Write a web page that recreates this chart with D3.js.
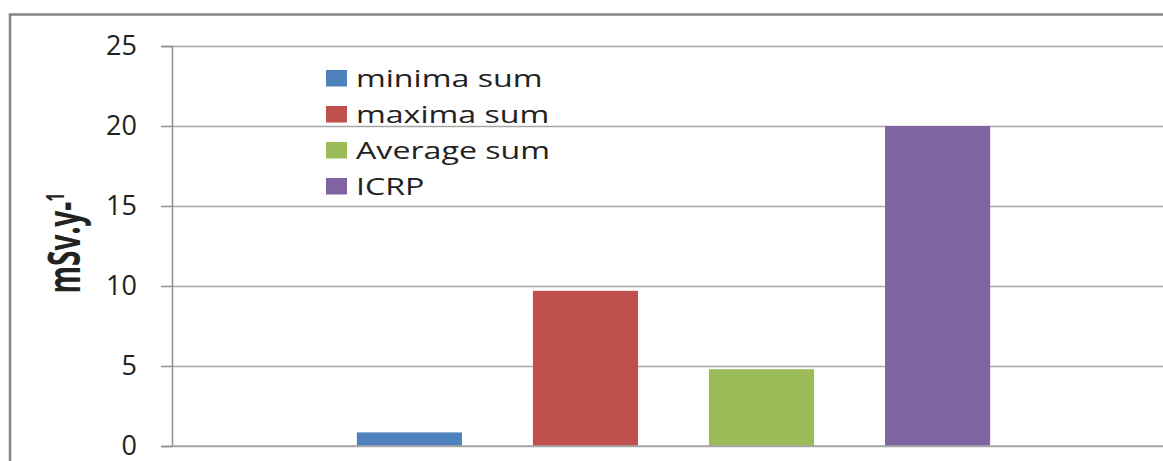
<!DOCTYPE html>
<html>
<head>
<meta charset="utf-8">
<script src="https://cdn.jsdelivr.net/npm/d3@7"></script>
<style>
  body { margin: 0; background: #fff; }
  text { font-family: "Open Sans", sans-serif; fill: #222; }
</style>
</head>
<body>
<svg id="chart" width="1163" height="461"></svg>
<script>
// Series (one category, four series)
const seriesNames = ['minima sum', 'maxima sum', 'Average sum', 'ICRP'];
const seriesValues = [0.85, 9.7, 4.8, 20];
const yTicks = [0, 5, 10, 15, 20, 25];
const yTitle = 'mSv.y-';
const yTitleSup = '1';

const colors = ['#4f81bd', '#c0504d', '#9bbb59', '#8064a2'];

const svg = d3.select('#chart');

// outer chart border (cropped on right and bottom)
svg.append('rect')
  .attr('x', 10).attr('y', 14.5)
  .attr('width', 1200).attr('height', 500)
  .attr('fill', 'none')
  .attr('stroke', '#858585')
  .attr('stroke-width', 2.5);

const plot = { left: 172, right: 1175, top: 46, bottom: 446 };

const x = d3.scaleBand()
  .domain(seriesNames)
  .range([plot.left, plot.right])
  .paddingInner(0.403)
  .paddingOuter(1.05);

const y = d3.scaleLinear()
  .domain([0, 25])
  .range([plot.bottom, plot.top]);

// gridlines
svg.append('g')
  .attr('transform', `translate(${plot.left},0)`)
  .call(d3.axisLeft(y).tickValues(yTicks).tickSize(-(plot.right - plot.left)).tickFormat(''))
  .call(g => g.select('.domain').remove())
  .call(g => g.selectAll('line').attr('stroke', '#a6a6a6').attr('stroke-width', 1.5));

// y axis with ticks and labels
svg.append('g')
  .attr('transform', `translate(${plot.left},0)`)
  .call(d3.axisLeft(y).tickValues(yTicks).tickSize(11).tickPadding(24))
  .call(g => g.select('.domain').attr('stroke', '#909090').attr('stroke-width', 1.5))
  .call(g => g.selectAll('line').attr('stroke', '#909090').attr('stroke-width', 1.5))
  .call(g => g.selectAll('text')
    .attr('fill', '#222')
    .attr('dy', '0.3em')
    .style('font-family', '"Open Sans", sans-serif')
    .style('font-size', '27px'));

// bars
svg.append('g')
  .selectAll('rect')
  .data(seriesNames)
  .join('rect')
  .attr('x', d => x(d))
  .attr('width', x.bandwidth())
  .attr('y', (d, i) => y(seriesValues[i]))
  .attr('height', (d, i) => y(0) - y(seriesValues[i]))
  .attr('fill', (d, i) => colors[i]);

// bottom axis line
svg.append('line')
  .attr('x1', plot.left).attr('x2', plot.right)
  .attr('y1', y(0)).attr('y2', y(0))
  .attr('stroke', '#a6a6a6').attr('stroke-width', 1.5);

// legend
const legend = svg.append('g').attr('transform', 'translate(326,70)');
const items = legend.selectAll('g')
  .data(seriesNames)
  .join('g')
  .attr('transform', (d, i) => `translate(0,${i * 36})`);

items.append('rect')
  .attr('width', 21).attr('height', 16.5)
  .attr('fill', (d, i) => colors[i]);

items.append('g')
  .attr('transform', 'translate(30,16.5)')
  .append('text')
  .attr('transform', 'scale(1.34,1)')
  .style('font-size', '24px')
  .text(d => d);

// y axis title
const title = svg.append('g')
  .attr('transform', 'translate(80,243) rotate(-90)')
  .append('text')
  .attr('text-anchor', 'middle')
  .attr('transform', 'scale(1,1.6)')
  .style('font-size', '28px')
  .style('font-weight', 'bold');
title.append('tspan').text(yTitle);
title.append('tspan')
  .attr('dy', -10)
  .style('font-size', '16px')
  .text(yTitleSup);
</script>
</body>
</html>
